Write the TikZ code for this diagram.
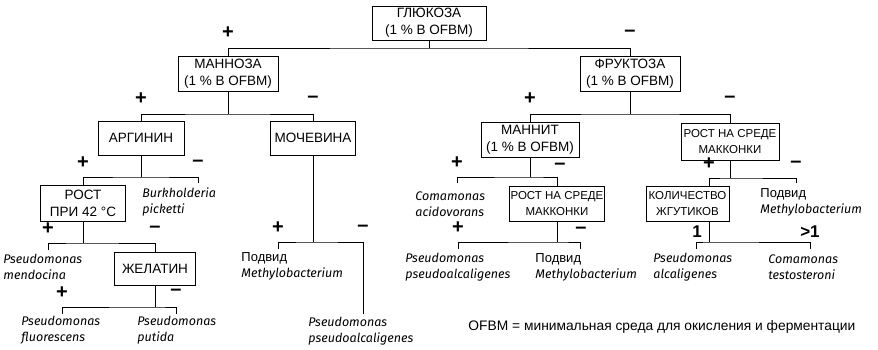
\documentclass[tikz,border=0pt]{standalone}
\usepackage{fontspec}
\setmainfont{Liberation Sans}
\newfontfamily\spfont{Fira Sans}
\begin{document}
\begin{tikzpicture}[x=1pt,y=-1pt,
  line width=0.9pt,
  box/.style={draw, line width=0.8pt, align=center, inner sep=0pt, minimum height=35,
    font=\fontsize{13.5}{17}\selectfont},
  smallbox/.style={box, font=\fontsize{11.5}{16}\selectfont},
  leaf/.style={align=left, inner sep=0pt, anchor=west,
    font=\spfont\itshape\fontsize{12.5}{16}\selectfont},
  upleaf/.style={align=left, inner sep=0pt, anchor=west, font=\fontsize{13}{16}\selectfont},
  sgn/.style={inner sep=0pt, font=\bfseries\fontsize{20}{20}\selectfont},
  num/.style={sgn, font=\bfseries\fontsize{17}{17}\selectfont},
  note/.style={inner sep=0pt, anchor=west, font=\fontsize{13.8}{15}\selectfont}]
\useasboundingbox (0,0) rectangle (878,350);

% boxes
\node[box, minimum width=114, minimum height=34] (glu) at (429,23) {ГЛЮКОЗА\\(1 \% В OFBM)};
\node[box, minimum width=100] (man) at (228,73.5) {МАННОЗА\\(1 \% В OFBM)};
\node[box, minimum width=100] (fru) at (630,73.5) {ФРУКТОЗА\\(1 \% В OFBM)};
\node[box, minimum width=86, minimum height=34] (arg) at (141,138) {АРГИНИН};
\node[box, minimum width=85, minimum height=34] (moc) at (313,138) {МОЧЕВИНА};
\node[box, minimum width=98] (mnt) at (530,139.5) {МАННИТ\\(1 \% В OFBM)};
\node[smallbox, minimum width=98, minimum height=37] (mk1) at (730,141.5) {РОСТ НА СРЕДЕ\\МАККОНКИ};
\node[box, minimum width=85, minimum height=36] (r42) at (83,203) {РОСТ\\ПРИ 42 °C};
\node[smallbox, minimum width=95] (mk2) at (557,203.5) {РОСТ НА СРЕДЕ\\МАККОНКИ};
\node[smallbox, minimum width=83] (kol) at (687.5,203.5) {КОЛИЧЕСТВО\\ЖГУТИКОВ};
\node[box, minimum width=81, minimum height=33] (zhel) at (155,268.5) {ЖЕЛАТИН};

% leaves
\node[leaf] (burk) at (142,202) {Burkholderia\\picketti};
\node[leaf] (mend) at (3,267) {Pseudomonas\\mendocina};
\node[leaf] (fluo) at (21,330) {Pseudomonas\\fluorescens};
\node[leaf] (puti) at (137,330) {Pseudomonas\\putida};
\node[upleaf] (podv1) at (241,266) {Подвид\\\spfont\itshape\fontsize{12.5}{16}\selectfont Methylobacterium};
\node[leaf] (psal1) at (308,331.5) {Pseudomonas\\pseudoalcaligenes};
\node[leaf] (coma) at (415,204) {Comamonas\\acidovorans};
\node[leaf] (psal2) at (405,267.5) {Pseudomonas\\pseudoalcaligenes};
\node[upleaf] (podv2) at (535,267) {Подвид\\\spfont\itshape\fontsize{12.5}{16}\selectfont Methylobacterium};
\node[upleaf] (podv3) at (760,202) {Подвид\\\spfont\itshape\fontsize{12.5}{16}\selectfont Methylobacterium};
\node[leaf] (alca) at (653,267) {Pseudomonas\\alcaligenes};
\node[leaf] (test) at (768,267) {Comamonas\\testosteroni};
\node[note] (foot) at (468,327) {OFBM = минимальная среда для окисления и ферментации};

% signs
\node[sgn] (g+) at (228,33) {+};
\node[sgn] (g-) at (630,33) {–};
\node[sgn] (m+) at (141,99) {+};
\node[sgn] (m-) at (313,99) {–};
\node[sgn] (f+) at (530,99) {+};
\node[sgn] (f-) at (730,99) {–};
\node[sgn] (a+) at (83,163) {+};
\node[sgn] (a-) at (198,163) {–};
\node[sgn] (o+) at (278,228) {+};
\node[sgn] (o-) at (363,228) {–};
\node[sgn] (n+) at (457,163) {+};
\node[sgn] (n-) at (560,166.5) {–};
\node[sgn] (k+) at (709,164) {+};
\node[sgn] (k-) at (796,164) {–};
\node[sgn] (r+) at (48,229) {+};
\node[sgn] (r-) at (155,229) {–};
\node[sgn] (z+) at (62,293) {+};
\node[sgn] (z-) at (176,292) {–};
\node[sgn] (q+) at (458,228) {+};
\node[sgn] (q-) at (581,230) {–};
\node[num] (l1) at (697,232) {1};
\node[num] (l2) at (810,232) {>1};

% connectors
\coordinate (gb) at (429,48);
\draw (glu.south) -- (gb);
\draw (man.north) |- (gb) -| (fru.north);

\coordinate (mb) at (228,114);
\draw (man.south) -- (mb);
\draw (arg.north) |- (mb) -| (moc.north);

\coordinate (fb) at (630,114);
\draw (fru.south) -- (fb);
\draw (mnt.north) |- (fb) -| (mk1.north);

\coordinate (ab) at (141,177);
\coordinate (at) at (198,183);
\draw (arg.south) -- (ab);
\draw (r42.north) |- (ab) -| (at);

\coordinate (ob) at (313,242);
\coordinate (ot1) at (278,249);
\coordinate (ot2) at (363,314);
\draw (moc.south) -- (ob);
\draw (ot1) |- (ob) -| (ot2);

\coordinate (nb) at (530,177);
\coordinate (nt) at (457,183);
\draw (mnt.south) -- (nb);
\draw (nt) |- (nb) -| (mk2.north);

\coordinate (kb) at (730,178);
\coordinate (kd) at (709,178);
\coordinate (kt) at (796,183);
\draw (mk1.south) -- (kb);
\draw (kol.north -| kd) |- (kb) -| (kt);

\coordinate (lb) at (709,242);
\coordinate (lt1) at (696,249);
\coordinate (lt2) at (810,249);
\draw (kol.south -| lb) -- (lb);
\draw (lt1) |- (lb) -| (lt2);

\coordinate (rb) at (83,243);
\coordinate (rt) at (48,250);
\draw (r42.south) -- (rb);
\draw (rt) |- (rb) -| (zhel.north);

\coordinate (zb) at (155,307);
\coordinate (zt1) at (62,314);
\coordinate (zt2) at (176,314);
\draw (zhel.south) -- (zb);
\draw (zt1) |- (zb) -| (zt2);

\coordinate (qb) at (557,242);
\coordinate (qt1) at (458,249);
\coordinate (qt2) at (580,249);
\draw (mk2.south) -- (qb);
\draw (qt1) |- (qb) -| (qt2);
\end{tikzpicture}
\end{document}
